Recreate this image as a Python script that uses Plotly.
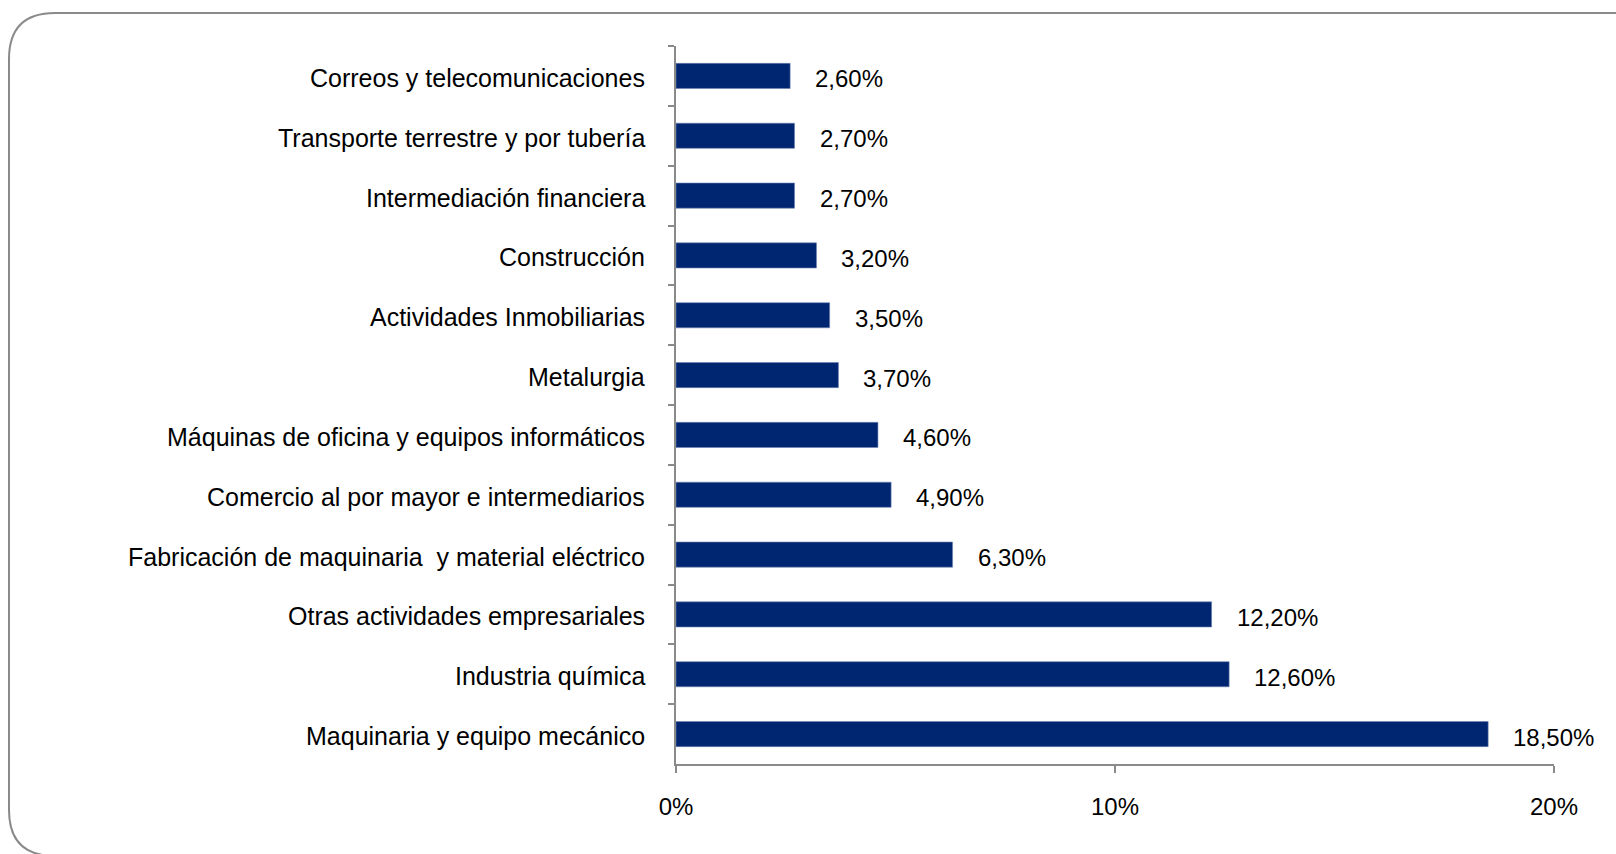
import plotly.graph_objects as go

# Sector shares, listed top to bottom as displayed
sectores = [
    "Correos y telecomunicaciones",
    "Transporte terrestre y por tubería",
    "Intermediación financiera",
    "Construcción",
    "Actividades Inmobiliarias",
    "Metalurgia",
    "Máquinas de oficina y equipos informáticos",
    "Comercio al por mayor e intermediarios",
    "Fabricación de maquinaria  y material eléctrico",
    "Otras actividades empresariales",
    "Industria química",
    "Maquinaria y equipo mecánico",
]
porcentajes = [2.6, 2.7, 2.7, 3.2, 3.5, 3.7, 4.6, 4.9, 6.3, 12.2, 12.6, 18.5]
x_ticks = [0, 10, 20]
x_tick_labels = ["0%", "10%", "20%"]

FONT = "Liberation Sans, Arial, sans-serif"
BAR = "#002672"
GREY = "#8a8a8a"

W, H = 1616, 854
L, R, T, B = 676, 62, 46, 90

fig = go.Figure()
fig.add_trace(go.Bar(
    x=porcentajes,
    y=sectores,
    orientation="h",
    marker=dict(color=BAR, line=dict(color="#6d82b0", width=0.6)),
    width=0.42,
    hoverinfo="x+y",
))

# category names left of the axis
for s in sectores:
    fig.add_annotation(
        x=0, y=s, xref="x", yref="y",
        text=s, showarrow=False, xanchor="right", yanchor="middle",
        xshift=-29, yshift=-2,
        font=dict(family=FONT, size=25, color="#000000"),
    )

# value labels to the right of each bar
for s, v in zip(sectores, porcentajes):
    fig.add_annotation(
        x=v, y=s, xref="x", yref="y",
        text=f"{v:.2f}".replace(".", ",") + "%",
        showarrow=False, xanchor="left", yanchor="middle",
        xshift=23, yshift=-3,
        font=dict(family=FONT, size=24, color="#000000"),
    )

# rounded frame around the chart (paper coordinates relative to the plot area)
pw, ph = W - L - R, H - T - B
def px(xp):
    return (xp - L) / pw
def py(yp):
    return (H - B - yp) / ph
x0, x1, y0, y1, r = 9, 1660, 13, 856, 46
rx, ry = r / pw, r / ph
path = (
    f"M {px(x0)},{py(y0) - ry} "
    f"Q {px(x0)},{py(y0)} {px(x0) + rx},{py(y0)} "
    f"L {px(x1) - rx},{py(y0)} "
    f"Q {px(x1)},{py(y0)} {px(x1)},{py(y0) - ry} "
    f"L {px(x1)},{py(y1) + ry} "
    f"Q {px(x1)},{py(y1)} {px(x1) - rx},{py(y1)} "
    f"L {px(x0) + rx},{py(y1)} "
    f"Q {px(x0)},{py(y1)} {px(x0)},{py(y1) + ry} Z"
)
fig.add_shape(type="path", path=path, xref="paper", yref="paper",
              line=dict(color=GREY, width=2), fillcolor="rgba(0,0,0,0)",
              layer="below")

fig.update_layout(
    width=W, height=H,
    margin=dict(l=L, r=R, t=T, b=B, pad=0),
    paper_bgcolor="white", plot_bgcolor="white",
    showlegend=False,
    font=dict(family=FONT, size=24, color="#000000"),
    xaxis=dict(
        range=[0, 20], tickvals=x_ticks, ticktext=x_tick_labels,
        showgrid=False, zeroline=False,
        showline=True, linecolor=GREY, linewidth=2,
        ticks="outside", ticklen=7, tickwidth=2, tickcolor=GREY,
        ticklabelstandoff=13,
        tickfont=dict(family=FONT, size=24, color="#000000"),
        fixedrange=True,
    ),
    yaxis=dict(
        autorange="reversed",
        showgrid=False, zeroline=False,
        showline=True, linecolor=GREY, linewidth=2,
        ticks="outside", ticklen=6, tickwidth=2, tickcolor=GREY,
        tickson="boundaries",
        showticklabels=False,
        fixedrange=True,
    ),
)

fig.write_html("out.html")
